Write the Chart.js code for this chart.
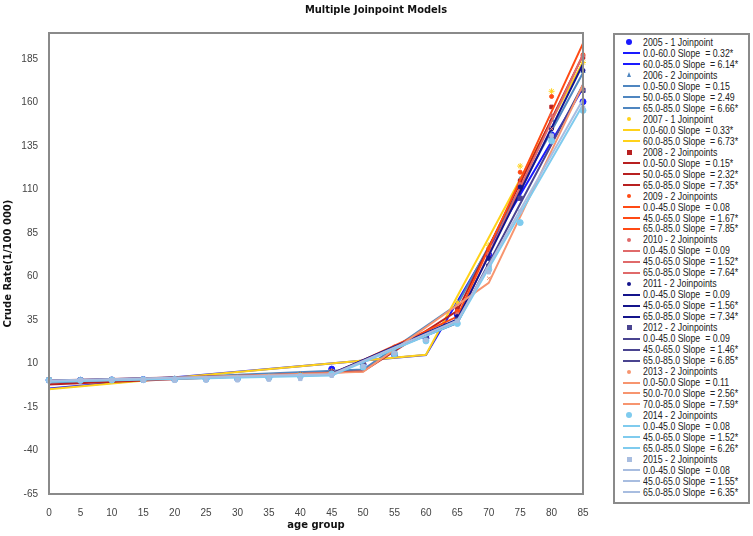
<!DOCTYPE html>
<html><head><meta charset="utf-8">
<script src="https://cdn.jsdelivr.net/npm/chart.js@4/dist/chart.umd.min.js"></script>
<style>
html,body{margin:0;padding:0;background:#fff;}
#wrap{position:relative;width:753px;height:536px;overflow:hidden;}
#c{position:absolute;left:0;top:0;}
#legend{position:absolute;left:613px;top:33px;width:137px;height:471px;box-sizing:border-box;border:2px solid #8a8a8a;padding-top:2px;font-family:"Liberation Sans",Arial,sans-serif;font-size:11px;color:#222;background:#fff;overflow:hidden;}
.row{height:10.97px;line-height:10.97px;display:flex;align-items:center;white-space:pre;}
.sw{width:28px;flex:0 0 28px;position:relative;height:100%;}
.ln{position:absolute;left:8px;width:17px;height:2px;top:50%;margin-top:-1px;}
.mk{position:absolute;left:50%;top:50%;}
.tx{display:inline-block;transform:scaleX(0.8);transform-origin:0 50%;}
</style>
</head><body>
<div id="wrap"><canvas id="c" width="753" height="536"></canvas><div id="legend"></div></div>
<script>
// ---------- data ----------
const ages = [0,5,10,15,20,25,30,35,40,45,50,55,60,65,70,75,80,85];
const years = ['2005','2006','2007','2008','2009','2010','2011','2012','2013','2014','2015'];
const joinpointNames = ['1 Joinpoint','2 Joinpoints','1 Joinpoint','2 Joinpoints','2 Joinpoints','2 Joinpoints','2 Joinpoints','2 Joinpoints','2 Joinpoints','2 Joinpoints','2 Joinpoints'];
const yTickValues = [-65,-40,-15,10,35,60,85,110,135,160,185];

// observed crude rates by age group
const obs2005 = [0.5,0.4,0.6,0.8,1.0,1.2,1.5,2.0,3.5,6.8,9.5,15.0,24.5,38.0,72.5,111.0,141.5,160.5];
const obs2006 = [0.8,0.6,0.7,0.9,1.1,1.3,1.6,2.3,3.2,5.0,9.0,17.0,25.0,41.0,70.0,116.0,150.0,178.0];
const obs2007 = [0.6,0.5,0.7,0.9,1.2,1.4,1.8,2.4,3.6,5.5,10.0,16.0,23.0,45.0,78.0,123.5,166.5,183.0];
const obs2008 = [0.7,0.5,0.6,0.8,1.0,1.3,1.7,2.2,3.4,5.2,10.5,18.0,26.0,42.0,74.0,115.0,157.5,186.0];
const obs2009 = [0.5,0.6,0.7,0.9,1.0,1.2,1.6,2.1,3.0,4.8,11.0,19.5,27.0,40.0,76.0,120.0,163.5,187.5];
const obs2010 = [0.6,0.5,0.7,0.8,1.1,1.4,1.7,2.3,3.3,5.0,10.0,18.5,26.5,38.5,73.0,113.0,152.5,187.0];
const obs2011 = [0.4,0.5,0.6,0.8,1.0,1.2,1.5,2.0,3.1,4.6,9.5,17.5,25.5,37.0,70.5,111.5,145.0,178.5];
const obs2012 = [0.5,0.4,0.6,0.7,0.9,1.1,1.4,1.9,2.9,4.5,9.0,16.5,24.0,35.0,66.0,105.0,140.5,167.0];
const obs2013 = [0.3,0.4,0.5,0.7,0.9,1.1,1.3,1.8,2.7,4.2,8.5,16.0,23.5,34.0,59.0,97.0,145.0,168.0];
const obs2014 = [0.4,0.3,0.5,0.7,0.8,1.0,1.3,1.7,2.6,4.0,8.0,15.5,23.0,33.0,64.0,91.0,138.0,155.5];
const obs2015 = [0.0,0.4,0.5,0.3,0.1,0.3,0.4,0.8,1.2,3.0,8.5,16.0,23.5,34.5,62.5,97.5,141.0,157.0];
const observed = [obs2005,obs2006,obs2007,obs2008,obs2009,obs2010,obs2011,obs2012,obs2013,obs2014,obs2015];

// fitted joinpoint models: ages at segment ends and fitted values there
const fitAges2005 = [0,60,85];       const fit2005 = [-4.3,14.9,168.4];
const fitAges2006 = [0,50,65,85];    const fit2006 = [-1.0,6.5,43.9,177.1];
const fitAges2007 = [0,60,85];       const fit2007 = [-4.8,15.0,183.3];
const fitAges2008 = [0,50,65,85];    const fit2008 = [-2.0,5.5,40.3,187.3];
const fitAges2009 = [0,45,65,85];    const fit2009 = [0.0,3.6,37.0,194.0];
const fitAges2010 = [0,45,65,85];    const fit2010 = [0.2,4.3,34.7,187.5];
const fitAges2011 = [0,45,65,85];    const fit2011 = [0.1,4.2,35.4,182.2];
const fitAges2012 = [0,45,65,85];    const fit2012 = [0.0,4.1,33.3,170.3];
const fitAges2013 = [0,50,70,85];    const fit2013 = [-0.3,5.2,56.4,170.3];
const fitAges2014 = [0,45,65,85];    const fit2014 = [-0.5,3.1,33.5,158.7];
const fitAges2015 = [0,45,65,85];    const fit2015 = [0.2,3.8,34.8,161.8];
const fitAges = [fitAges2005,fitAges2006,fitAges2007,fitAges2008,fitAges2009,fitAges2010,fitAges2011,fitAges2012,fitAges2013,fitAges2014,fitAges2015];
const fitValues = [fit2005,fit2006,fit2007,fit2008,fit2009,fit2010,fit2011,fit2012,fit2013,fit2014,fit2015];

// segment slope labels
const seg2005 = ['0.0-60.0 Slope  = 0.32*','60.0-85.0 Slope  = 6.14*'];
const seg2006 = ['0.0-50.0 Slope  = 0.15','50.0-65.0 Slope  = 2.49','65.0-85.0 Slope  = 6.66*'];
const seg2007 = ['0.0-60.0 Slope  = 0.33*','60.0-85.0 Slope  = 6.73*'];
const seg2008 = ['0.0-50.0 Slope  = 0.15*','50.0-65.0 Slope  = 2.32*','65.0-85.0 Slope  = 7.35*'];
const seg2009 = ['0.0-45.0 Slope  = 0.08','45.0-65.0 Slope  = 1.67*','65.0-85.0 Slope  = 7.85*'];
const seg2010 = ['0.0-45.0 Slope  = 0.09','45.0-65.0 Slope  = 1.52*','65.0-85.0 Slope  = 7.64*'];
const seg2011 = ['0.0-45.0 Slope  = 0.09','45.0-65.0 Slope  = 1.56*','65.0-85.0 Slope  = 7.34*'];
const seg2012 = ['0.0-45.0 Slope  = 0.09','45.0-65.0 Slope  = 1.46*','65.0-85.0 Slope  = 6.85*'];
const seg2013 = ['0.0-50.0 Slope  = 0.11','50.0-70.0 Slope  = 2.56*','70.0-85.0 Slope  = 7.59*'];
const seg2014 = ['0.0-45.0 Slope  = 0.08','45.0-65.0 Slope  = 1.52*','65.0-85.0 Slope  = 6.26*'];
const seg2015 = ['0.0-45.0 Slope  = 0.08','45.0-65.0 Slope  = 1.55*','65.0-85.0 Slope  = 6.35*'];
const segments = [seg2005,seg2006,seg2007,seg2008,seg2009,seg2010,seg2011,seg2012,seg2013,seg2014,seg2015];

// ---------- styles ----------
const lineColors  = ['#1a1aff','#4f86c0','#ffd21a','#b82020','#ff4a14','#e06a6a','#14148c','#4a4490','#f7956f','#7fcbee','#a8bde0'];
const pointStyles = ['circle','triangle','star','rect','circle','circle','circle','rect','crossRot','circle','rect'];
const pointRadii  = [3,2.5,3,2.5,2,1.8,2,3,2.5,3,2.5];

// ---------- datasets (later years drawn on top) ----------
const datasets = [];
years.forEach((y,i)=>{
  datasets.push({
    label: y + ' - ' + joinpointNames[i],
    data: ages.map((a,k)=>({x:a,y:observed[i][k]})),
    showLine:false,
    order: 100 - 2*i,
    pointStyle: pointStyles[i],
    pointRadius: pointRadii[i],
    pointBackgroundColor: lineColors[i],
    pointBorderColor: lineColors[i],
    pointBorderWidth: 1,
    clip:false
  });
  datasets.push({
    label: y + ' fit',
    data: fitAges[i].map((a,k)=>({x:a,y:fitValues[i][k]})),
    showLine:true,
    order: 101 - 2*i,
    borderColor: lineColors[i],
    borderWidth: 2,
    pointRadius: 0,
    fill:false,
    tension:0,
    clip:false
  });
});

const framePlugin = {
  id:'frame',
  afterDraw(chart){
    const {ctx, chartArea:ca} = chart;
    ctx.save();
    ctx.strokeStyle = '#8a8a8a';
    ctx.lineWidth = 2;
    ctx.strokeRect(ca.left, ca.top, ca.right-ca.left, ca.bottom-ca.top);
    ctx.fillStyle = '#111';
    ctx.font = 'bold 11px "DejaVu Sans Condensed", "DejaVu Sans", sans-serif';
    ctx.textAlign = 'center';
    ctx.textBaseline = 'middle';
    ctx.fillText('Multiple Joinpoint Models', 376, 10);
    ctx.restore();
  }
};

new Chart(document.getElementById('c'), {
  type:'scatter',
  data:{datasets},
  plugins:[framePlugin],
  options:{
    responsive:false, animation:false, devicePixelRatio:1,
    layout:{padding:{left:0,right:170,top:33,bottom:0}},
    plugins:{legend:{display:false}, tooltip:{enabled:false}, title:{display:false}},
    scales:{
      x:{
        type:'linear', min:0, max:85,
        ticks:{stepSize:5, padding:5, color:'#444', font:{family:'Liberation Sans', size:10}},
        grid:{display:false}, border:{display:false},
        title:{display:true, text:'age group', color:'#111', font:{family:'DejaVu Sans', size:10, weight:'bold'}, padding:{top:0,bottom:5}},
        afterFit(s){ s.height = 42; }
      },
      y:{
        type:'linear', min:-65, max:200,
        afterBuildTicks(s){ s.ticks = yTickValues.map(v=>({value:v})); },
        ticks:{padding:3, color:'#444', font:{family:'Liberation Sans', size:10}},
        grid:{display:false}, border:{display:false},
        title:{display:true, text:'Crude Rate(1/100 000)', color:'#111', font:{family:'DejaVu Sans', size:10, weight:'bold'}, padding:{top:2,bottom:0}},
        afterFit(s){ s.width = 49; }
      }
    }
  }
});

// ---------- legend ----------
const lg = document.getElementById('legend');
function markerHTML(i){
  const c = lineColors[i], st = pointStyles[i];
  if (st === 'rect') return `<span class="mk" style="width:5px;height:5px;margin:-2.5px 0 0 -2.5px;background:${c}"></span>`;
  if (st === 'triangle') return `<span class="mk" style="width:0;height:0;margin:-3px 0 0 -2.5px;border-left:2.5px solid transparent;border-right:2.5px solid transparent;border-bottom:5px solid ${c}"></span>`;
  const d = i===0||i===9 ? 6 : 4;
  return `<span class="mk" style="width:${d}px;height:${d}px;margin:${-d/2}px 0 0 ${-d/2}px;border-radius:50%;background:${c}"></span>`;
}
years.forEach((y,i)=>{
  let r = document.createElement('div'); r.className='row';
  r.innerHTML = `<span class="sw">${markerHTML(i)}</span><span class="tx"></span>`;
  r.querySelector('.tx').textContent = y + ' - ' + joinpointNames[i];
  lg.appendChild(r);
  segments[i].forEach(s=>{
    let q = document.createElement('div'); q.className='row';
    q.innerHTML = `<span class="sw"><span class="ln" style="background:${lineColors[i]}"></span></span><span class="tx"></span>`;
    q.querySelector('.tx').textContent = s;
    lg.appendChild(q);
  });
});
</script>
</body></html>
